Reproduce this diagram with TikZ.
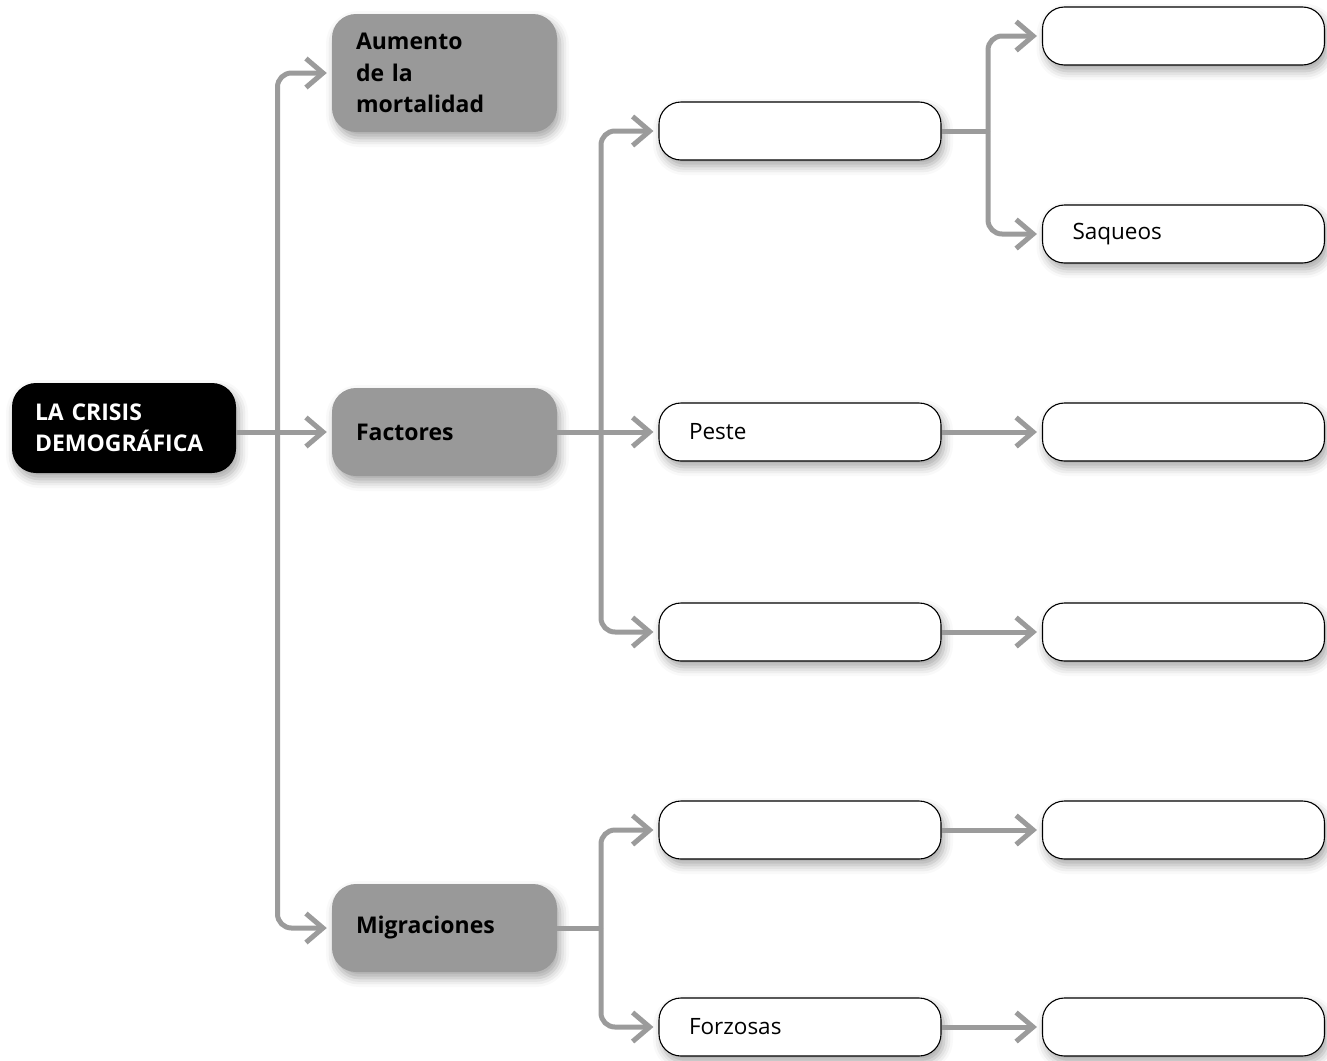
\documentclass[tikz,border=0pt]{standalone}
\usepackage{fontspec}
\setmainfont{Open Sans}
\usetikzlibrary{arrows.meta,shadows.blur}
\definecolor{lg}{HTML}{9B9B9B}
\definecolor{boxgray}{HTML}{999999}
\begin{document}
\begin{tikzpicture}[x=1pt,y=-1pt,
  mainfont/.style={font=\fontsize{23}{31.5}\selectfont\bfseries},
  sh/.style={blur shadow={shadow xshift=3pt,shadow yshift=-6pt,shadow blur radius=9pt,shadow opacity=35}},
  rootbox/.style={sh,fill=black,text=white,rounded corners=24pt,minimum height=90pt,
    text width=178pt,inner xsep=23pt,align=left,mainfont},
  graybox/.style={sh,fill=boxgray,text=black,rounded corners=24pt,minimum height=88pt,
    text width=177pt,inner xsep=24pt,align=left,mainfont},
  whitebox/.style={sh,fill=white,draw=black,line width=1.1pt,rounded corners=22pt,minimum height=58pt,
    text width=222pt,inner xsep=30pt,align=left,font=\fontsize{22.5}{28}\selectfont},
  line/.style={draw=lg,line width=5pt,rounded corners=14pt},
  conn/.style={line,-{Straight Barb[length=17pt,width=29pt]},shorten >=5pt},
]
\useasboundingbox (0,0) rectangle (1327,1060);

% nodes
\node[rootbox] (root) at (124,428) {LA CRISIS\\DEMOGRÁFICA};
\node[graybox,minimum height=118pt] (aum) at (444.5,73) {Aumento\\de la\\mortalidad};
\node[graybox] (fac) at (444.5,432) {Factores};
\node[graybox] (mig) at (444.5,928) {Migraciones};

\node[whitebox] (a1) at (800,131) {};
\node[whitebox] (peste) at (800,432) {Peste};
\node[whitebox] (a3) at (800,632) {};
\node[whitebox] (a4) at (800,830) {};
\node[whitebox] (forz) at (800,1027) {Forzosas};

\node[whitebox] (b0) at (1183.5,36) {};
\node[whitebox] (saq) at (1183.5,234) {Saqueos};
\node[whitebox] (b2) at (1183.5,432) {};
\node[whitebox] (b3) at (1183.5,632) {};
\node[whitebox] (b4) at (1183.5,830) {};
\node[whitebox] (b5) at (1183.5,1027) {};

% trunk points
\coordinate (t1) at (277.5,432);
\coordinate (t2) at (601,432);
\coordinate (t3) at (601,928);
\coordinate (t4) at (988,131);

% connectors
\draw[conn] (root.east |- fac.west) -- (fac.west);
\draw[conn] (t1) |- (aum.west);
\draw[conn] (t1) |- (mig.west);

\draw[conn] (fac.east) -- (peste.west);
\draw[conn] (t2) |- (a1.west);
\draw[conn] (t2) |- (a3.west);

\draw[line] (mig.east) -- (t3);
\draw[conn] (t3) |- (a4.west);
\draw[conn] (t3) |- (forz.west);

\draw[line] (a1.east) -- (t4);
\draw[conn] (t4) |- (b0.west);
\draw[conn] (t4) |- (saq.west);

\draw[conn] (peste.east) -- (b2.west);
\draw[conn] (a3.east) -- (b3.west);
\draw[conn] (a4.east) -- (b4.west);
\draw[conn] (forz.east) -- (b5.west);
\end{tikzpicture}
\end{document}
